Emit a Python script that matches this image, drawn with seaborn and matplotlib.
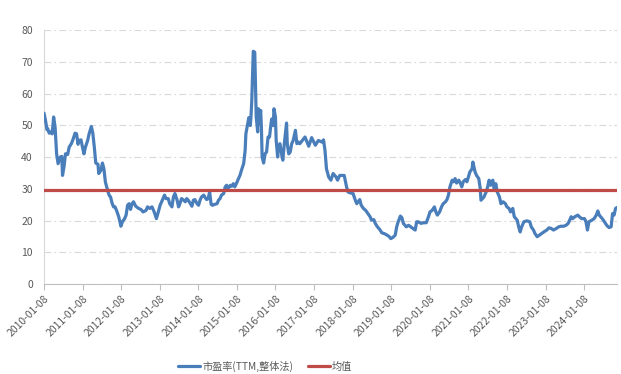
import numpy as np
import pandas as pd
import matplotlib
matplotlib.use("Agg")
import matplotlib.pyplot as plt
import seaborn as sns

# Weekly observations: number of weeks after the first Friday (2010-01-08)
week_no = [
    0, 2, 4, 5, 7, 9, 11, 13, 15, 17, 19, 22, 24, 25, 27, 29, 32, 34, 37, 39,
    42, 44, 46, 47, 50, 52, 54, 56, 59, 61, 64, 66, 68, 70, 73, 74, 77, 79, 81, 83,
    86, 88, 90, 92, 94, 96, 98, 101, 104, 106, 109, 111, 113, 115, 117, 119, 121, 124, 128, 131,
    134, 138, 140, 143, 146, 149, 152, 154, 157, 160, 163, 165, 168, 170, 173, 175, 177, 180, 182, 184,
    186, 189, 191, 193, 195, 198, 200, 202, 204, 207, 209, 211, 213, 216, 218, 220, 222, 224, 226, 228,
    231, 234, 236, 238, 240, 243, 245, 247, 249, 252, 254, 256, 258, 261, 263, 265, 267, 270, 272, 273,
    275, 277, 279, 280, 281, 282, 283, 285, 286, 287, 289, 290, 291, 293, 294, 295, 297, 299, 301, 303,
    305, 307, 308, 310, 311, 313, 314, 316, 317, 319, 322, 323, 325, 327, 328, 329, 331, 333, 335, 337,
    340, 342, 344, 346, 353, 358, 362, 367, 371, 376, 378, 380, 382, 385, 388, 391, 395, 397, 400, 404,
    406, 409, 411, 414, 418, 421, 423, 427, 429, 432, 435, 438, 441, 443, 446, 448, 451, 454, 457, 460,
    464, 467, 469, 472, 475, 477, 479, 482, 484, 486, 490, 493, 496, 499, 502, 504, 506, 510, 513, 517,
    520, 522, 525, 528, 530, 532, 535, 538, 540, 543, 545, 547, 549, 552, 554, 556, 558, 561, 563, 565,
    567, 570, 572, 574, 576, 579, 580, 582, 583, 585, 588, 590, 591, 593, 595, 598, 600, 602, 604, 607,
    609, 611, 613, 616, 618, 621, 624, 626, 629, 631, 634, 636, 640, 642, 644, 646, 649, 653, 657, 659,
    662, 664, 667, 670, 673, 676, 680, 683, 686, 689, 693, 696, 699, 703, 706, 709, 713, 715, 718, 722,
    724, 727, 731, 733, 735, 737, 741, 744, 747, 749, 751, 755, 758, 761, 764, 767, 769, 771, 773, 775,
]

# 市盈率 (TTM, 整体法)
pe_ttm = [
    53.8, 51.5, 48.6, 48.9, 47.5, 47.9, 47.3, 52.6, 49.4, 41.0, 37.9, 40.0, 40.2, 34.2, 36.9, 41.0, 40.8, 43.1, 44.2, 45.4,
    47.5, 47.3, 44.0, 45.2, 45.4, 43.1, 41.0, 43.1, 45.2, 47.3, 49.6, 47.5, 43.1, 38.1, 37.7, 34.8, 35.8, 38.1, 36.3, 32.1,
    29.5, 28.0, 27.4, 25.5, 24.3, 24.3, 23.2, 21.2, 18.2, 19.6, 20.6, 21.7, 24.8, 25.3, 23.5, 25.3, 25.9, 24.5, 23.8, 23.5,
    22.7, 23.2, 24.3, 23.8, 24.3, 22.7, 20.6, 22.2, 24.8, 26.4, 28.0, 26.9, 26.9, 25.3, 24.3, 27.4, 28.5, 26.4, 24.3, 25.5,
    26.9, 26.4, 25.9, 26.9, 26.4, 25.3, 24.5, 26.4, 26.6, 25.3, 24.8, 26.4, 27.4, 28.0, 27.2, 26.6, 26.9, 29.0, 25.1, 24.8,
    25.1, 25.3, 26.4, 26.9, 28.0, 28.5, 30.6, 31.1, 30.1, 31.1, 30.8, 31.6, 30.6, 32.1, 33.2, 34.2, 35.8, 37.9, 42.1, 47.3,
    49.9, 52.4, 49.9, 53.1, 57.8, 65.1, 73.3, 73.0, 63.0, 52.6, 47.9, 55.2, 50.5, 54.7, 49.4, 40.0, 38.1, 41.0, 41.6, 46.3,
    46.3, 50.5, 52.0, 49.9, 55.2, 52.6, 45.2, 40.0, 43.1, 44.2, 40.0, 39.0, 44.2, 48.4, 50.7, 44.2, 41.0, 41.6, 44.2, 45.2,
    48.4, 44.2, 44.7, 44.2, 46.3, 43.4, 46.1, 43.7, 45.2, 44.7, 45.4, 42.1, 36.3, 33.7, 32.7, 34.8, 33.7, 32.7, 34.2, 34.2,
    34.2, 30.8, 29.0, 28.7, 28.5, 26.4, 25.3, 26.6, 24.8, 23.8, 23.2, 22.2, 21.2, 20.1, 20.3, 19.1, 18.0, 17.2, 16.1, 15.9,
    15.4, 14.9, 14.3, 14.7, 15.4, 18.0, 19.6, 21.4, 20.9, 19.1, 18.0, 18.5, 18.0, 17.5, 17.0, 19.6, 19.6, 19.1, 19.3, 19.3,
    21.2, 22.7, 23.2, 24.3, 22.7, 21.7, 22.7, 24.5, 25.3, 25.9, 26.6, 28.0, 30.6, 32.7, 32.2, 33.2, 31.8, 32.7, 31.8, 30.6,
    32.2, 32.9, 32.2, 33.7, 35.3, 36.3, 38.4, 36.3, 35.3, 34.2, 33.2, 30.1, 26.4, 26.9, 27.4, 29.0, 30.6, 32.7, 31.1, 32.7,
    29.5, 31.6, 29.0, 27.4, 25.3, 25.9, 25.3, 24.3, 23.8, 22.7, 23.8, 21.2, 20.1, 18.0, 16.4, 18.0, 19.6, 19.9, 19.6, 18.0,
    17.0, 15.9, 14.9, 15.4, 15.9, 16.4, 17.0, 17.7, 17.5, 17.0, 17.5, 18.0, 18.2, 18.2, 18.5, 19.1, 21.2, 20.6, 21.2, 21.7,
    21.2, 20.6, 20.6, 19.6, 17.0, 19.6, 20.1, 20.6, 21.7, 23.0, 21.7, 20.6, 19.6, 18.5, 17.8, 18.0, 22.2, 21.7, 23.8, 24.1,
]

mean_pe = 29.5
start_date = "2010-01-08"
tick_years = list(range(2010, 2025))

series_name = "市盈率(TTM,整体法)"
mean_name = "均值"

dates = pd.Timestamp(start_date) + pd.to_timedelta(np.array(week_no) * 7, unit="D")
df = pd.DataFrame({"date": dates, "pe": pe_ttm})
df_mean = pd.DataFrame({"date": dates, "pe": mean_pe})

sns.set_theme(style="white")
plt.rcParams["font.family"] = ["Noto Sans CJK SC", "DejaVu Sans"]

text_gray = "#595959"
axis_gray = "#D9D9D9"
blue = "#4A7EBB"
red = "#BE4B48"

fig = plt.figure(figsize=(6.21, 3.74), dpi=100)
ax = fig.add_axes([0.0709, 0.2406, 0.9227, 0.6792])

sns.lineplot(data=df, x="date", y="pe", ax=ax, color=blue, linewidth=2.3,
             label=series_name, zorder=3)
sns.lineplot(data=df_mean, x="date", y="pe", ax=ax, color=red, linewidth=2.3,
             label=mean_name, zorder=4)

ax.set_xlim(dates[0], dates[-1])
ax.set_ylim(0, 80)
ax.set_yticks(range(0, 81, 10))
ax.set_xlabel("")
ax.set_ylabel("")

ticks = [pd.Timestamp(f"{y}-01-08") for y in tick_years]
ax.set_xticks(ticks)
ax.set_xticklabels([t.strftime("%Y-%m-%d") for t in ticks], rotation=45,
                   ha="right", rotation_mode="anchor")

# dash-dot horizontal grid
ax.yaxis.grid(True, color=axis_gray, linewidth=0.8, linestyle=(0, (6, 3, 1.5, 3)))
ax.xaxis.grid(False)
ax.set_axisbelow(True)

for side in ["top", "right"]:
    ax.spines[side].set_visible(False)
ax.spines["left"].set_color(axis_gray)
ax.spines["bottom"].set_color("#BFBFBF")
ax.spines["left"].set_linewidth(0.8)
ax.spines["bottom"].set_linewidth(0.8)

ax.tick_params(axis="y", length=0, labelsize=7.5, labelcolor=text_gray, pad=8)
ax.tick_params(axis="x", length=4, width=0.8, color="#BFBFBF", labelsize=7.5,
               labelcolor=text_gray, pad=3, bottom=True)

handles, labels = ax.get_legend_handles_labels()
ax.get_legend().remove()
leg = fig.legend(handles, labels, loc="center", bbox_to_anchor=(0.427, 0.02),
                 ncol=2, frameon=False, fontsize=7.3, handlelength=2.2,
                 columnspacing=1.4, handletextpad=0.2)
for t in leg.get_texts():
    t.set_color(text_gray)

fig.savefig("out.png", dpi=100)
